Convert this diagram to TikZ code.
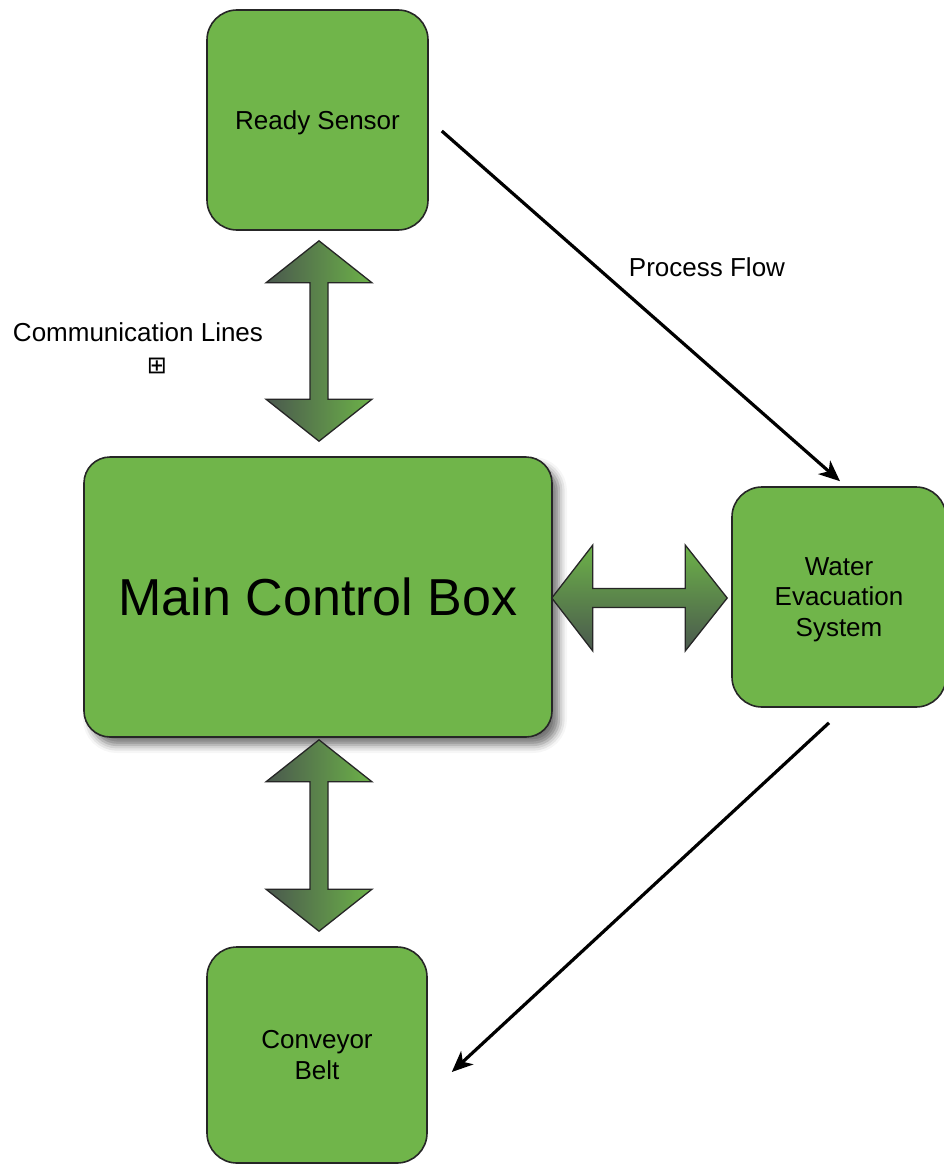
\documentclass[tikz,border=0pt]{standalone}
\usepackage{fontspec}
\setmainfont{Liberation Sans}
\newfontfamily\symfont{DejaVu Sans}
\usetikzlibrary{arrows.meta,calc,shadows.blur}
\definecolor{boxgreen}{RGB}{112,181,74}
\definecolor{arrowdark}{RGB}{74,88,78}
\definecolor{arrowgreen}{RGB}{108,178,72}
% fat double arrows between two tips
\newcommand\vfatarrow[2]{%
  \shadedraw[fatarrow,left color=arrowdark,right color=arrowgreen]
    (#1) -- ($(#1)+(53,42)$) -- ($(#1)+(9,42)$) -- ($(#2)+(9,-42)$)
    -- ($(#2)+(53,-42)$) -- (#2) -- ($(#2)+(-53,-42)$) -- ($(#2)+(-9,-42)$)
    -- ($(#1)+(-9,42)$) -- ($(#1)+(-53,42)$) -- cycle;}
\newcommand\hfatarrow[2]{%
  \shadedraw[fatarrow,top color=arrowgreen,bottom color=arrowdark]
    (#1) -- ($(#1)+(41,-53)$) -- ($(#1)+(41,-9.5)$) -- ($(#2)+(-42,-9.5)$)
    -- ($(#2)+(-42,-53)$) -- (#2) -- ($(#2)+(-42,53)$) -- ($(#2)+(-42,9.5)$)
    -- ($(#1)+(41,9.5)$) -- ($(#1)+(41,53)$) -- cycle;}

\begin{document}
\begin{tikzpicture}[x=1pt,y=-1pt,font=\fontsize{26}{30.5}\selectfont,
  unit/.style={draw=black!85,line width=1.6pt,fill=boxgreen,rounded corners=30pt,
    align=center,inner sep=0pt,text depth=0pt},
  fatarrow/.style={draw=black!85,line width=1.3pt,line join=miter},
  flow/.style={-{Stealth[length=21pt,width=18pt,inset=6pt]},line width=3.2pt}]
  \useasboundingbox (0,0) rectangle (943,1164);
  \node[unit,minimum width=221pt,minimum height=220pt] (rs) at (317.5,120) {Ready Sensor};
  \node[unit,minimum width=468pt,minimum height=280pt,rounded corners=26pt,
    blur shadow={shadow xshift=7pt,shadow yshift=-8pt,shadow blur radius=8pt,shadow opacity=55},
    font=\fontsize{52}{60}\selectfont] (mcb) at (318,597) {Main Control Box};
  \node[unit,minimum width=214pt,minimum height=220pt] (wes) at (839,597)
    {Water\\Evacuation\\System};
  \node[unit,minimum width=220pt,minimum height=216pt] (cb) at (317,1055) {Conveyor\\Belt};
  % communication lines
  \vfatarrow{$(rs.south)+(1.5,10)$}{$(mcb.north)+(1,-15)$}
  \vfatarrow{$(mcb.south)+(1,2)$}{$(cb.north)+(2,-15)$}
  \hfatarrow{$(mcb.east)+(-1,1)$}{$(wes.west)+(-4,1)$}
  \node (comm) at (138,332) {Communication Lines};
  \node (plus) at (157,366) {\symfont\fontsize{24}{24}\selectfont ⊞};
  % process flow
  \coordinate (pfa) at ($(rs.east)+(13,11)$);
  \coordinate (pfb) at ($(wes.north)+(1,-5)$);
  \coordinate (pfc) at ($(wes.south)+(-10,15)$);
  \coordinate (pfd) at ($(cb.east)+(24,17)$);
  \draw[flow] (pfa) -- (pfb);
  \draw[flow] (pfc) -- (pfd);
  \node (pflow) at (707,267) {Process Flow};
\end{tikzpicture}
\end{document}
